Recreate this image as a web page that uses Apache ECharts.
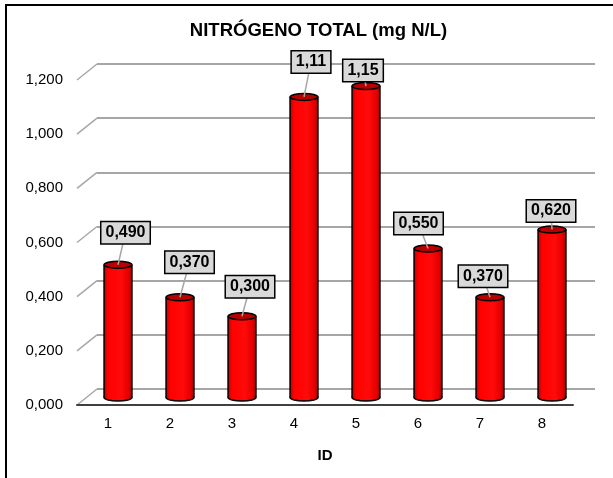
<!DOCTYPE html>
<html>
<head>
<meta charset="utf-8">
<script src="https://cdn.jsdelivr.net/npm/echarts@6/dist/echarts.min.js"></script>
<style>
html,body{margin:0;padding:0;background:#fff;}
#chart{width:613px;height:478px;}
</style>
</head>
<body>
<div id="chart"></div>
<script>
// ---- data ----
const categories = ['1', '2', '3', '4', '5', '6', '7', '8'];
const values = [0.49, 0.37, 0.30, 1.11, 1.15, 0.55, 0.37, 0.62];
const dataLabels = ['0,490', '0,370', '0,300', '1,11', '1,15', '0,550', '0,370', '0,620'];
const yTicks = [0, 0.2, 0.4, 0.6, 0.8, 1.0, 1.2];
const titleText = 'NITRÓGENO TOTAL (mg N/L)';
const xAxisName = 'ID';

// ---- layout (not data) ----
const labelOffsets = [[7.5, -32], [9.5, -35], [8, -29.5], [7, -35], [-3, -15.5], [-9.5, -25], [-7, -21], [-1, -18.5]];
const DEPTH_X = 20, DEPTH_Y = -16;  // back wall offset
const MID_X = 10, MID_Y = -7.5;     // cylinder plane offset
const FONT = 'Liberation Sans, Arial, sans-serif';

const chart = echarts.init(document.getElementById('chart'), null, {renderer: 'canvas'});

function fmt(v) { return v.toFixed(3).replace('.', ','); }

const barGrad = () => new echarts.graphic.LinearGradient(0, 0, 1, 0, [
  {offset: 0, color: '#c00000'},
  {offset: 0.14, color: '#ff0000'},
  {offset: 0.6, color: '#ff0a0a'},
  {offset: 0.88, color: '#e40000'},
  {offset: 1, color: '#a00000'}
]);

function renderCylinder(params, api) {
  const i = api.value(0), v = api.value(1);
  const base = api.coord([i, 0]);
  const top = api.coord([i, v]);
  const band = api.size([1, 0])[0];
  const w = band * 0.45, rx = w / 2, ry = 3.5;
  const cx = base[0] + MID_X, by = base[1] + MID_Y, ty = top[1] + MID_Y;
  return {
    type: 'group',
    children: [
      {type: 'ellipse', shape: {cx: cx, cy: by, rx: rx, ry: ry}, style: {fill: barGrad(), stroke: '#000', lineWidth: 1.5}},
      {type: 'rect', shape: {x: cx - rx, y: ty, width: w, height: by - ty}, style: {fill: barGrad()}},
      {type: 'line', shape: {x1: cx - rx, y1: ty, x2: cx - rx, y2: by}, style: {stroke: '#000', lineWidth: 1.5}},
      {type: 'line', shape: {x1: cx + rx, y1: ty, x2: cx + rx, y2: by}, style: {stroke: '#000', lineWidth: 1.5}},
      {type: 'ellipse', shape: {cx: cx, cy: ty, rx: rx, ry: ry}, style: {fill: '#b80000', stroke: '#000', lineWidth: 1.5}}
    ]
  };
}

function renderLabel(params, api) {
  const i = api.value(0), v = api.value(1);
  const top = api.coord([i, v]);
  const cx = top[0] + MID_X, ty = top[1] + MID_Y;
  const off = labelOffsets[params.dataIndex];
  const lx = cx + off[0], ly = ty + off[1];
  return {
    type: 'group',
    children: [
      {type: 'line', shape: {x1: cx, y1: ty, x2: lx, y2: ly}, style: {stroke: '#a6a6a6', lineWidth: 1.5}},
      {type: 'text', x: lx, y: ly, style: {
        text: dataLabels[params.dataIndex], fill: '#000', font: 'bold 16px ' + FONT,
        align: 'center', verticalAlign: 'middle',
        backgroundColor: '#d9d9d9', borderColor: '#000', borderWidth: 1.5, padding: [3, 4, 2, 4]
      }}
    ]
  };
}

function renderDiagonal(params, api) {
  const v = api.value(0);
  const p = api.coord([0, v]);
  const band = api.size([1, 0])[0];
  const x0 = p[0] - band / 2;
  return {type: 'line', shape: {x1: x0, y1: p[1], x2: x0 + DEPTH_X, y2: p[1] + DEPTH_Y},
    style: {stroke: '#a6a6a6', lineWidth: 1.5}};
}

const option = {
  backgroundColor: '#fff',
  animation: false,
  graphic: [
    {type: 'rect', shape: {x: 6, y: 5, width: 700, height: 600}, style: {fill: 'none', stroke: '#000', lineWidth: 2}, z: 100},
    {type: 'text', x: 318.5, y: 31, style: {text: titleText, font: 'bold 18.5px ' + FONT, fill: '#000', align: 'center', verticalAlign: 'middle'}, z: 100}
  ],
  grid: [
    {left: 77, right: 40, top: 80, bottom: 73},
    {left: 97, right: 18, top: 64, bottom: 89}
  ],
  xAxis: [
    {type: 'category', gridIndex: 0, data: categories,
      axisLine: {show: true, lineStyle: {color: '#404040', width: 2}},
      axisTick: {show: false},
      axisLabel: {fontFamily: FONT, fontSize: 15, color: '#000', margin: 11},
      name: xAxisName, nameLocation: 'middle', nameGap: 43,
      nameTextStyle: {fontFamily: FONT, fontSize: 15, fontWeight: 'bold', color: '#000'},
      z: 5},
    {type: 'category', gridIndex: 1, data: categories, show: false}
  ],
  yAxis: [
    {type: 'value', gridIndex: 0, min: 0, max: 1.2, interval: 0.2,
      axisLine: {show: false}, axisTick: {show: false}, splitLine: {show: false},
      axisLabel: {fontFamily: FONT, fontSize: 15, color: '#000', margin: 14, formatter: fmt}},
    {type: 'value', gridIndex: 1, min: 0, max: 1.2, interval: 0.2,
      axisLine: {show: false}, axisTick: {show: false}, axisLabel: {show: false},
      splitLine: {show: true, lineStyle: {color: '#a6a6a6', width: 2}}}
  ],
  series: [
    {type: 'custom', xAxisIndex: 0, yAxisIndex: 0, data: yTicks.map(v => [v]), renderItem: renderDiagonal, z: 1, silent: true},
    {type: 'custom', xAxisIndex: 0, yAxisIndex: 0, data: values.map((v, i) => [i, v]), renderItem: renderCylinder, z: 3, silent: true},
    {type: 'custom', xAxisIndex: 0, yAxisIndex: 0, data: values.map((v, i) => [i, v]), renderItem: renderLabel, z: 6, silent: true}
  ]
};
chart.setOption(option);
</script>
</body>
</html>
